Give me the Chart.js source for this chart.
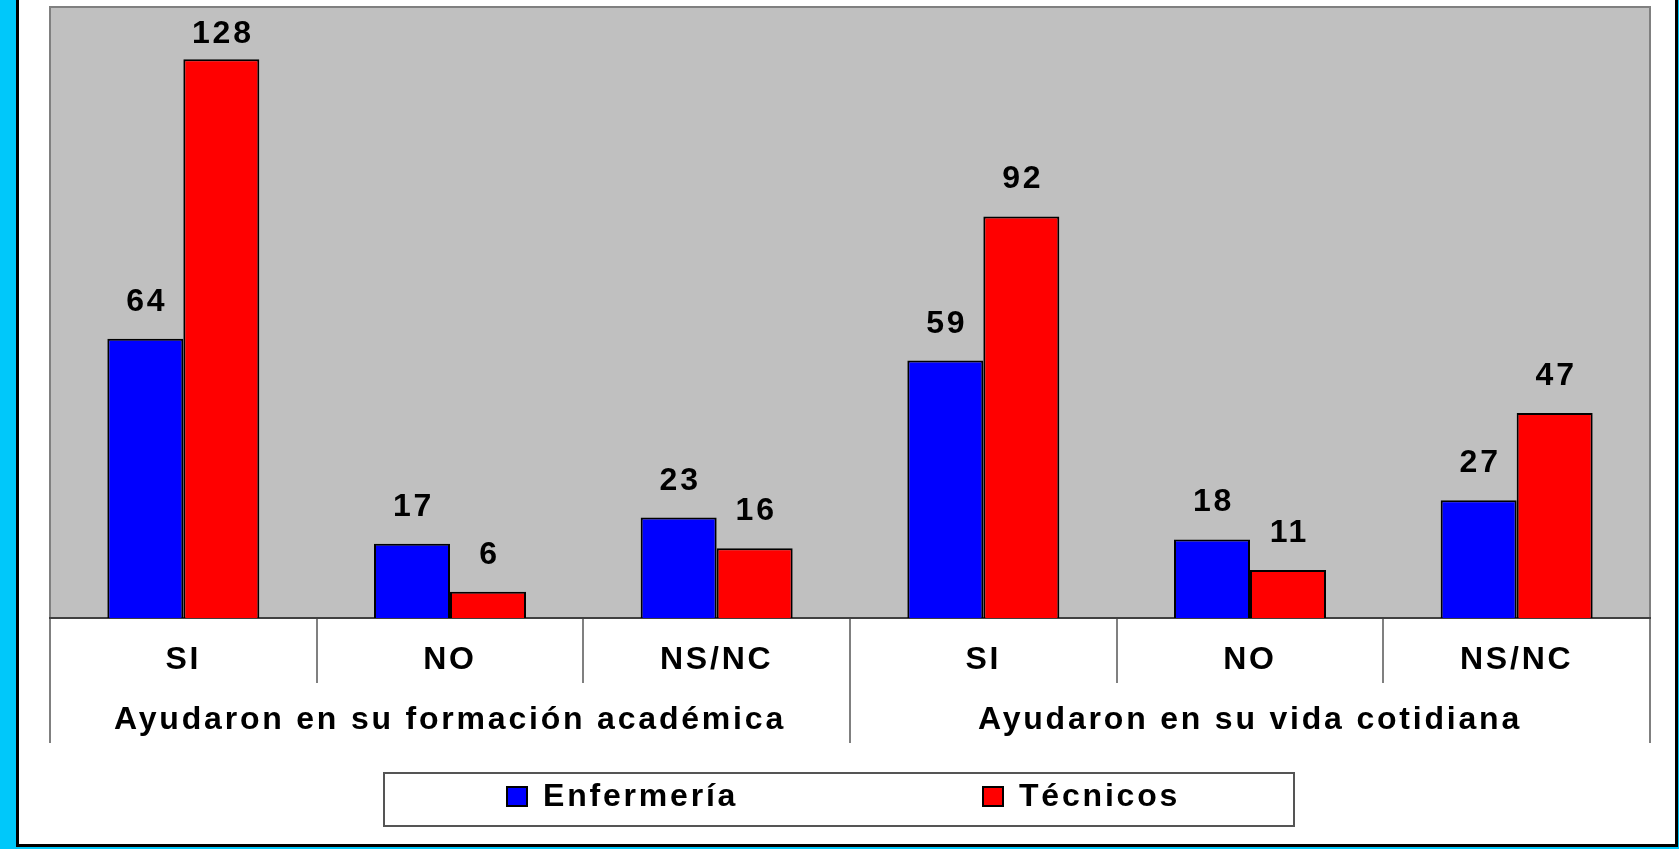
<!DOCTYPE html>
<html><head><meta charset="utf-8">
<script src="https://cdn.jsdelivr.net/npm/chart.js@4.4.1/dist/chart.umd.min.js"></script>
<style>
html,body{margin:0;padding:0;width:1679px;height:849px;overflow:hidden;background:#00C8FA;}
#frame{position:absolute;left:16px;top:-3px;width:1656px;height:844px;border:3px solid #000;background:#fff;}
#c{position:absolute;left:0;top:0;}
</style></head><body>
<div id="frame"></div>
<canvas id="c" width="1679" height="849"></canvas>
<script>
const categories = ['SI','NO','NS/NC','SI','NO','NS/NC'];
const groups = ['Ayudaron en su formación académica','Ayudaron en su vida cotidiana'];
const enfermeria = [64,17,23,59,18,27];
const tecnicos = [128,6,16,92,11,47];
const seriesNames = ['Enfermería','Técnicos'];
const seriesColors = ['#0000FF','#FF0000'];

const FONT = '"Liberation Sans", Arial, sans-serif';
const FSIZE = 32;
const SPACING = '2.8px';

const spacing = {
  id:'spacing',
  beforeLayout(chart){ chart.ctx.letterSpacing = SPACING; },
  beforeDraw(chart){ chart.ctx.letterSpacing = SPACING; }
};

const plotBg = {
  id:'plotBg',
  beforeDraw(chart){
    const {ctx, chartArea:a} = chart;
    ctx.save();
    ctx.fillStyle = '#C0C0C0';
    ctx.fillRect(a.left, a.top, a.right-a.left, a.bottom-a.top);
    ctx.strokeStyle = '#808080';
    ctx.lineWidth = 2;
    ctx.strokeRect(a.left, a.top, a.right-a.left, a.bottom-a.top);
    ctx.restore();
  }
};

const valueLabels = {
  id:'valueLabels',
  afterDatasetsDraw(chart){
    const ctx = chart.ctx;
    ctx.save();
    ctx.letterSpacing = SPACING;
    ctx.font = 'bold ' + FSIZE + 'px ' + FONT;
    ctx.fillStyle = '#000';
    ctx.textAlign = 'center';
    ctx.textBaseline = 'alphabetic';
    chart.data.datasets.forEach((ds,i)=>{
      chart.getDatasetMeta(i).data.forEach((bar,j)=>{
        const y = Math.max(bar.y - 28, chart.chartArea.top + 36);
        ctx.fillText(String(ds.data[j]), bar.x + 1.5, y);
      });
    });
    ctx.restore();
  }
};

const boxLegend = {
  id:'boxLegend',
  afterDraw(chart){
    const ctx = chart.ctx;
    ctx.save();
    ctx.strokeStyle = '#555';
    ctx.lineWidth = 2;
    ctx.strokeRect(384, 773, 910, 53);
    ctx.font = 'bold ' + FSIZE + 'px ' + FONT;
    ctx.letterSpacing = SPACING;
    ctx.textAlign = 'left';
    ctx.textBaseline = 'alphabetic';
    const xs = [506, 982];
    chart.data.datasets.forEach((ds,i)=>{
      ctx.fillStyle = ds.backgroundColor;
      ctx.fillRect(xs[i], 786, 22, 21);
      ctx.strokeStyle = '#000';
      ctx.lineWidth = 2;
      ctx.strokeRect(xs[i]+1, 787, 20, 19);
      ctx.fillStyle = '#000';
      ctx.fillText(ds.label, xs[i] + 37, 806);
    });
    ctx.restore();
  }
};

Chart.defaults.font.family = FONT;

new Chart(document.getElementById('c'), {
  type:'bar',
  data:{
    labels: categories,
    datasets:[
      {label: seriesNames[0], data: enfermeria, backgroundColor: seriesColors[0], borderColor:'#000', borderWidth:2, xAxisID:'x'},
      {label: seriesNames[1], data: tecnicos, backgroundColor: seriesColors[1], borderColor:'#000', borderWidth:2, xAxisID:'x'}
    ]
  },
  options:{
    responsive:false,
    animation:false,
    devicePixelRatio:1,
    layout:{padding:{left:50, right:29, top:7, bottom:106}},
    datasets:{bar:{categoryPercentage:0.57, barPercentage:1.0}},
    plugins:{legend:{display:false}, tooltip:{enabled:false}},
    scales:{
      y:{display:false, min:0, max:140},
      x:{
        type:'category', position:'bottom', weight:0, offset:true,
        grid:{offset:true, drawOnChartArea:false, drawTicks:true, tickLength:65, color:'#808080', lineWidth:2},
        border:{display:true, color:'#404040', width:2},
        ticks:{font:{size:FSIZE, weight:'bold'}, color:'#000', padding:-42, autoSkip:false, maxRotation:0, minRotation:0},
        afterFit(s){ s.height = 65; }
      },
      x2:{
        type:'category', position:'bottom', weight:1, offset:true, labels: groups,
        grid:{offset:true, drawOnChartArea:false, drawTicks:true, tickLength:60, color:'#808080', lineWidth:2},
        border:{display:false},
        ticks:{font:{size:FSIZE, weight:'bold'}, color:'#000', padding:-42, autoSkip:false, maxRotation:0, minRotation:0},
        afterFit(s){ s.height = 60; }
      }
    }
  },
  plugins:[spacing, plotBg, valueLabels, boxLegend]
});
</script>
</body></html>
